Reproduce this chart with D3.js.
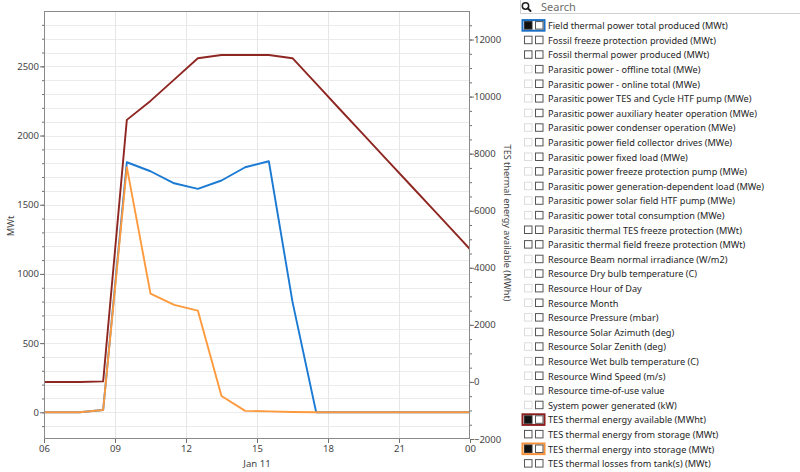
<!DOCTYPE html>
<html><head><meta charset="utf-8">
<script src="https://cdn.jsdelivr.net/npm/d3@7"></script>
<style>
html,body{margin:0;padding:0;background:#fff;overflow:hidden;}
svg{display:block;font-family:"Noto Sans","Open Sans",sans-serif;}
</style></head><body>
<svg id="chart" width="800" height="472"></svg>
<script>
// ---- data (hourly values at half past the hour, Jan 11) ----
const hours = [5.5, 6.5, 7.5, 8.5, 9.5, 10.5, 11.5, 12.5, 13.5, 14.5, 15.5, 16.5, 17.5, 18.5, 19.5, 20.5, 21.5, 22.5, 23.5, 24.5];
const fieldThermal = [0, 0, 0, 17, 1807, 1742, 1655, 1615, 1675, 1771, 1814, 798, 0, 0, 0, 0, 0, 0, 0, 0];
const tesAvailable = [0, 0, 0, 20, 9184, 9849, 10595, 11345, 11460, 11460, 11460, 11345, 10455, 9557, 8670, 7771, 6884, 5997, 5099, 4201];
const tesIntoStorage = [0, 0, 0, 17, 1772, 858, 776, 735, 118, 10, 7, 2, 0, 0, 0, 0, 0, 0, 0, 0];

const xTickHours = [6, 9, 12, 15, 18, 21, 24];
const dateLabel = "Jan 11";
const leftTicks = [0, 500, 1000, 1500, 2000, 2500];
const rightTicks = [-2000, 0, 2000, 4000, 6000, 8000, 10000, 12000];
const leftTitle = "MWt";
const rightTitle = "TES thermal energy available (MWht)";

const legendLabels = [
  "Field thermal power total produced (MWt)",
  "Fossil freeze protection provided (MWt)",
  "Fossil thermal power produced (MWt)",
  "Parasitic power - offline total (MWe)",
  "Parasitic power - online total (MWe)",
  "Parasitic power TES and Cycle HTF pump (MWe)",
  "Parasitic power auxiliary heater operation (MWe)",
  "Parasitic power condenser operation (MWe)",
  "Parasitic power field collector drives (MWe)",
  "Parasitic power fixed load (MWe)",
  "Parasitic power freeze protection pump (MWe)",
  "Parasitic power generation-dependent load (MWe)",
  "Parasitic power solar field HTF pump (MWe)",
  "Parasitic power total consumption (MWe)",
  "Parasitic thermal TES freeze protection (MWt)",
  "Parasitic thermal field freeze protection (MWt)",
  "Resource Beam normal irradiance (W/m2)",
  "Resource Dry bulb temperature (C)",
  "Resource Hour of Day",
  "Resource Month",
  "Resource Pressure (mbar)",
  "Resource Solar Azimuth (deg)",
  "Resource Solar Zenith (deg)",
  "Resource Wet bulb temperature (C)",
  "Resource Wind Speed (m/s)",
  "Resource time-of-use value",
  "System power generated (kW)",
  "TES thermal energy available (MWht)",
  "TES thermal energy from storage (MWt)",
  "TES thermal energy into storage (MWt)",
  "TES thermal losses from tank(s) (MWt)"
];
const seriesNames = ["Field thermal power total produced (MWt)", "TES thermal energy available (MWht)", "TES thermal energy into storage (MWt)"];
const seriesColors = ["#1b7ad3", "#8e2622", "#fe9a3e"];
const highlightColors = ["#1a6fc4", "#8b1e1e", "#f8913a"];

// ---- layout ----
const svg = d3.select("#chart");
const L = 44, R = 470, T = 11, B = 439;
const base = new Date(2021, 0, 11, 0, 0, 0);
const toDate = h => new Date(base.getTime() + h * 3600e3);

const x = d3.scaleTime().domain([toDate(6), toDate(24)]).range([L, R]);
const yL = d3.scaleLinear().domain([-193, 2900]).range([B, T]);
const yR = d3.scaleLinear().domain([-2000, 13000]).range([B, T]);

svg.append("rect").attr("x", 0).attr("y", 0).attr("width", 800).attr("height", 472).attr("fill", "#fff");

// gridlines
const grid = svg.append("g");
const hGrid = d3.range(-100, 2900, 100);
grid.selectAll("line.h").data(hGrid).join("line")
  .attr("x1", L).attr("x2", R)
  .attr("y1", d => Math.round(yL(d)) + 0.5).attr("y2", d => Math.round(yL(d)) + 0.5)
  .attr("stroke", "#ebebeb").attr("stroke-width", 1);
grid.selectAll("line.v").data(xTickHours.slice(1, -1)).join("line")
  .attr("x1", d => Math.round(x(toDate(d))) + 0.5).attr("x2", d => Math.round(x(toDate(d))) + 0.5)
  .attr("y1", T).attr("y2", B)
  .attr("stroke", "#e6e6e6").attr("stroke-width", 1);

// lines
svg.append("clipPath").attr("id", "clip").append("rect")
  .attr("x", L).attr("y", T).attr("width", R - L).attr("height", B - T);
const gLines = svg.append("g").attr("clip-path", "url(#clip)");
const seriesData = [
  { vals: fieldThermal, y: yL, color: seriesColors[0] },
  { vals: tesAvailable, y: yR, color: seriesColors[1] },
  { vals: tesIntoStorage, y: yL, color: seriesColors[2] }
];
seriesData.forEach(s => {
  const line = d3.line().x((d, i) => x(toDate(hours[i]))).y(d => s.y(d));
  gLines.append("path").datum(s.vals).attr("d", line)
    .attr("fill", "none").attr("stroke", s.color).attr("stroke-width", 1.9)
    .attr("stroke-linejoin", "round");
});

// frame
svg.append("rect").attr("x", L + 0.5).attr("y", T + 0.5).attr("width", R - L - 1).attr("height", B - T - 1)
  .attr("fill", "none").attr("stroke", "#8a8a8a").attr("stroke-width", 1);

const tickColor = "#6f6f6f", labelColor = "#444";
function styleAxis(g) {
  g.select(".domain").remove();
  g.selectAll(".tick line").attr("stroke", tickColor);
  g.selectAll(".tick text").attr("fill", labelColor).style("font-size", "9.5px")
    .style("font-family", '"Noto Sans","Open Sans",sans-serif');
}

// left axis
svg.append("g").attr("transform", `translate(${L},0)`)
  .call(d3.axisLeft(yL).tickValues(d3.range(-100, 2900, 100)).tickSize(2).tickFormat(""))
  .call(styleAxis);
svg.append("g").attr("transform", `translate(${L},0)`)
  .call(d3.axisLeft(yL).tickValues(leftTicks).tickSize(4).tickPadding(1).tickFormat(d3.format("d")))
  .call(styleAxis);

// right axis
svg.append("g").attr("transform", `translate(${R},0)`)
  .call(d3.axisRight(yR).tickValues(d3.range(-2000, 13000, 500)).tickSize(2).tickFormat(""))
  .call(styleAxis);
svg.append("g").attr("transform", `translate(${R},0)`)
  .call(d3.axisRight(yR).tickValues(rightTicks).tickSize(4).tickPadding(0).tickFormat(d3.format("d")))
  .call(styleAxis);

// bottom axis
svg.append("g").attr("transform", `translate(0,${B})`)
  .call(d3.axisBottom(x).tickValues(xTickHours.map(toDate)).tickSize(4).tickPadding(2).tickFormat(d3.timeFormat("%H")))
  .call(styleAxis);

// titles
svg.append("text").attr("transform", "translate(14,226) rotate(-90)")
  .attr("text-anchor", "middle").attr("fill", labelColor).style("font-size", "9.4px").text(leftTitle);
svg.append("text").attr("transform", "translate(504,223) rotate(90)")
  .attr("text-anchor", "middle").attr("fill", labelColor).style("font-size", "9.1px").text(rightTitle);
svg.append("text").attr("x", (L + R) / 2).attr("y", 467)
  .attr("text-anchor", "middle").attr("fill", labelColor).style("font-size", "9.6px").text(dateLabel);

// ---- legend panel ----
const panel = svg.append("g");
panel.append("rect").attr("x", 520.5).attr("y", -1).attr("width", 281).attr("height", 14.5)
  .attr("fill", "#fff").attr("stroke", "#d0d0d0");
panel.append("circle").attr("cx", 525.5).attr("cy", 6).attr("r", 3.2)
  .attr("fill", "none").attr("stroke", "#222").attr("stroke-width", 1.5);
panel.append("line").attr("x1", 527.8).attr("y1", 8.3).attr("x2", 530.5).attr("y2", 11)
  .attr("stroke", "#222").attr("stroke-width", 2).attr("stroke-linecap", "round");
panel.append("text").attr("x", 541).attr("y", 10.5).attr("fill", "#6d6d6d")
  .style("font-size", "11px").text("Search");

const rowY = i => 25.3 + i * 14.6;
const rows = panel.selectAll("g.row").data(legendLabels).join("g")
  .attr("transform", (d, i) => `translate(0,${rowY(i)})`);

rows.each(function (label) {
  const g = d3.select(this);
  const si = seriesNames.indexOf(label);
  const thermal = /\(MWh?t\)/.test(label);
  if (si >= 0) {
    g.append("rect").attr("x", 522.5).attr("y", -5.2).attr("width", 22).attr("height", 10.6)
      .attr("fill", "#fff").attr("stroke", highlightColors[si]).attr("stroke-width", 2);
  }
  g.append("rect").attr("x", 524.5).attr("y", -3.7).attr("width", 7.5).attr("height", 7.5)
    .attr("fill", si >= 0 ? "#111" : "#fff")
    .attr("stroke", si >= 0 ? "#333" : (thermal ? "#555" : "#dcdcdc")).attr("stroke-width", 1);
  g.append("rect").attr("x", 535.5).attr("y", -3.7).attr("width", 7.5).attr("height", 7.5)
    .attr("fill", "#fff").attr("stroke", "#555").attr("stroke-width", 1);
  g.append("text").attr("x", 548).attr("y", 3.8).attr("fill", "#1e1e1e")
    .attr("class", "lg").style("font-size", "11px").text(label);
});

// fit legend font so the first label spans the reference width
const first = panel.select("text.lg").node();
const w = first.getComputedTextLength();
const fs = 11 * 180 / w;
panel.selectAll("text.lg").style("font-size", fs.toFixed(2) + "px");
</script>
</body></html>
